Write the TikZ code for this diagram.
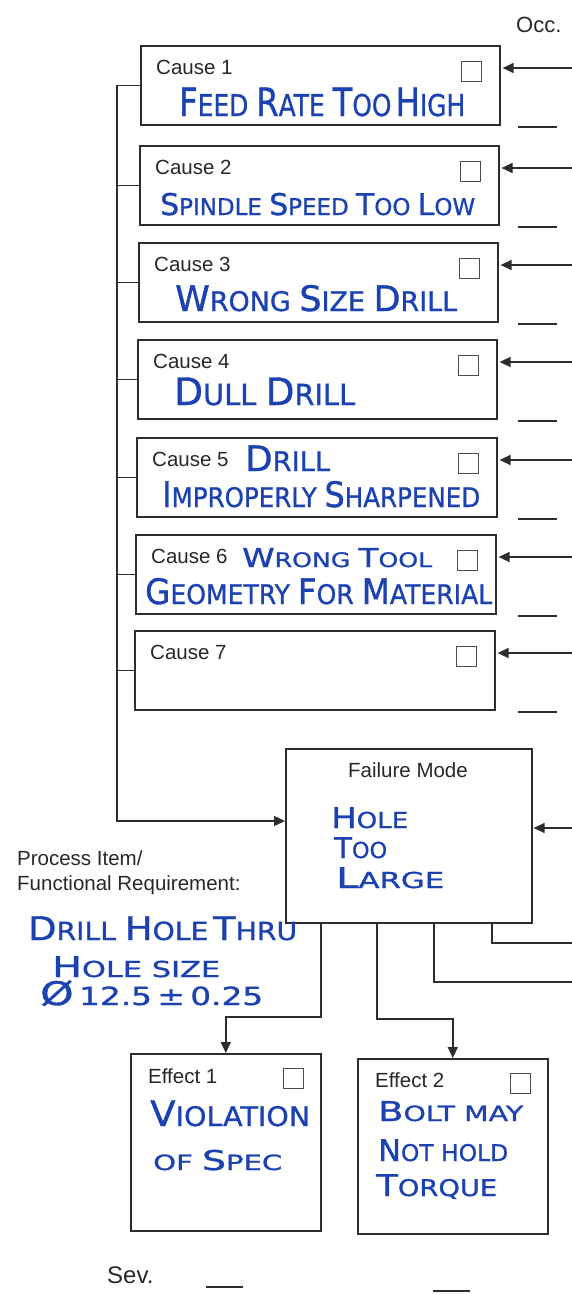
\documentclass[tikz,border=0pt]{standalone}
\usepackage{fontspec}
\usepackage{graphicx}
\setmainfont{Liberation Sans}
\newfontfamily\hwfont[FakeBold=1]{DejaVu Sans}
\usetikzlibrary{arrows.meta}
\definecolor{ink}{RGB}{28,66,178}
\definecolor{prn}{RGB}{40,40,40}
\definecolor{lc}{RGB}{45,45,45}
\newcommand\hwsz{20}
\newcommand\B[1]{{\fontsize{\fpeval{1.3*\hwsz}}{10}\selectfont #1}}
\newcommand\hw[3]{\resizebox{#1pt}{\height}{\renewcommand\hwsz{#2}\hwfont\fontsize{#2}{#2}\selectfont #3}}
\begin{document}
\begin{tikzpicture}[x=1pt,y=-1pt,
  box/.style={draw=lc, line width=1.6pt, inner sep=0, anchor=north west},
  cbox/.style={draw=lc!85, line width=1.1pt, minimum size=20pt, inner sep=0, anchor=north east},
  lbl/.style={font=\fontsize{20.5}{24}\selectfont, text=prn, inner sep=0, anchor=base west},
  hand/.style={text=ink, inner sep=0, anchor=base west},
  conn/.style={draw=lc, line width=1.4pt},
  arr/.style={conn, -{Triangle[length=11pt,width=10pt]}},
  blank/.style={draw=lc, line width=1.2pt}]
\useasboundingbox[fill=white] (0,0) rectangle (572,1294);

% Occ. header
\node[lbl, font=\fontsize{22}{24}\selectfont] (occ) at (516,32) {Occ.};

% cause boxes
\foreach \i/\t/\l/\r in {1/45/140/499, 2/145/139/498, 3/242/138/497, 4/339/137/496, 5/437/136/496, 6/534/135/495, 7/630/134/494}{
  \node[box, minimum width={\r-\l}, minimum height=79pt] (c\i) at (\l,\t) {};
  \node[cbox] (k\i) at ([xshift=-19pt,yshift=-16pt]c\i.north east) {};
  \node[lbl] (l\i) at ([xshift=16pt,yshift=-29pt]c\i.north west) {Cause \i};
  \coordinate (r\i) at (572,\t+23);
  \draw[arr, shorten >=2pt] (r\i) -- (r\i -| c\i.east);
  \draw[blank] (518,\t+82) -- (557,\t+82);
}

% handwritten causes
\node[hand] (h1) at (179,116) {\hw{286}{30}{\B{F}EED \B{R}ATE \B{T}OO\,\B{H}IGH}};
\node[hand] (h2) at (160,215) {\hw{315}{23}{\B{S}PINDLE \B{S}PEED \B{T}OO \B{L}OW}};
\node[hand] (h3) at (175,311) {\hw{282}{27}{\B{W}RONG \B{S}IZE \B{D}RILL}};
\node[hand] (h4) at (174,405) {\hw{181}{29}{\B{D}ULL \B{D}RILL}};
\node[hand] (h5a) at (245,471) {\hw{85}{27}{\B{D}RILL}};
\node[hand] (h5b) at (162,507) {\hw{318}{27}{\B{I}MPROPERLY \B{S}HARPENED}};
\node[hand] (h6a) at (242,567) {\hw{190}{20}{\B{W}RONG \B{T}OOL}};
\node[hand] (h6b) at (145,604) {\hw{347}{27}{\B{G}EOMETRY \B{F}OR \B{M}ATERIAL}};

% failure mode
\node[box, minimum width=246pt, minimum height=174pt] (fm) at (285,748) {};
\node[lbl, anchor=base] (fml) at (408,777) {Failure Mode};
\node[hand] (hf1) at (331,828) {\hw{77}{22}{\B{H}OLE}};
\node[hand] (hf2) at (334,858) {\hw{53}{22}{\B{T}OO}};
\node[hand] (hf3) at (336,888) {\hw{108}{22}{\B{L}ARGE}};

% spine from causes to failure mode
\coordinate (sp) at (117,821);
\draw[arr] (c1.west) -| (sp) -- (sp -| fm.west);
\foreach \i in {2,...,7}{\draw[conn] (c\i.west) -- (c\i.west -| sp);}
\coordinate (rf) at (572,828);
\draw[arr, shorten >=1pt] (rf) -- (rf -| fm.east);

% process item
\node[lbl] (pi1) at (17,865) {Process Item/};
\node[lbl] (pi2) at (17,890) {Functional Requirement:};
\node[hand] (hp1) at (28,940) {\hw{269}{25}{\B{D}RILL \B{H}OLE\,\B{T}HRU}};
\node[hand] (hp2) at (52,977) {\hw{168}{22}{\B{H}OLE SIZE}};
\node[hand] (hp3) at (40,1005) {\hw{223}{25}{\B{Ø}\,12.5\,±\,0.25}};

% effect boxes
\node[box, minimum width=190pt, minimum height=177pt] (e1) at (130,1053) {};
\node[box, minimum width=190pt, minimum height=175pt] (e2) at (357,1058) {};
\node[cbox] (ke1) at ([xshift=-18pt,yshift=-15pt]e1.north east) {};
\node[cbox] (ke2) at ([xshift=-18pt,yshift=-15pt]e2.north east) {};
\node[lbl] (le1) at (148,1083) {Effect 1};
\node[lbl] (le2) at (375,1087) {Effect 2};
\node[hand] (he1a) at (150,1126) {\hw{160}{27}{\B{V}IOLATION}};
\node[hand] (he1b) at (153,1170) {\hw{129}{21}{OF \B{S}PEC}};
\node[hand] (he2a) at (378,1121) {\hw{145}{21}{\B{B}OLT MAY}};
\node[hand] (he2b) at (378,1161) {\hw{130}{23}{\B{N}OT HOLD}};
\node[hand] (he2c) at (376,1196) {\hw{121}{23}{\B{T}ORQUE}};

% connectors from failure mode downward
\coordinate (b1) at (321,1017);
\coordinate (b2) at (377,1019);
\coordinate (t3) at (434,982);
\coordinate (t4) at (492,943);
\coordinate (r8) at (572,982);
\coordinate (r9) at (572,943);
\draw[arr] (fm.south -| b1) -- (b1) -| (e1.north);
\draw[arr] (fm.south -| b2) -- (b2) -| (e2.north);
\draw[conn] (fm.south -| t3) -- (t3) -- (r8);
\draw[conn] (fm.south -| t4) -- (t4) -- (r9);

% severity
\node[lbl, font=\fontsize{24}{26}\selectfont] (sev) at (107,1283) {Sev.};
\draw[blank] (206,1287) -- (243,1287);
\draw[blank] (433,1291) -- (470,1291);
\end{tikzpicture}
\end{document}
